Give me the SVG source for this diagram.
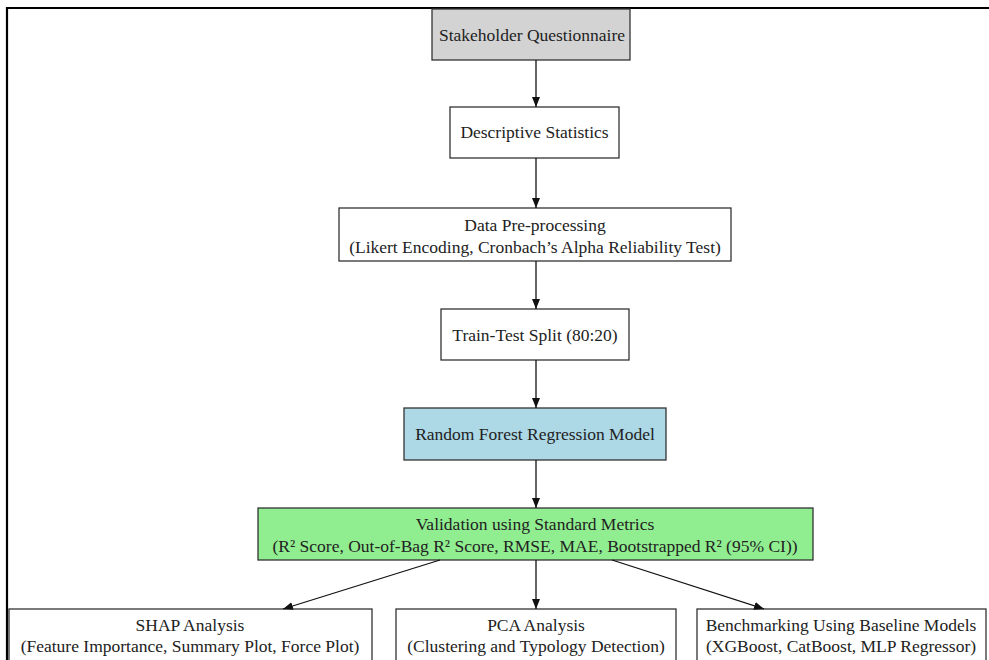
<svg xmlns="http://www.w3.org/2000/svg" width="989" height="660" viewBox="0 0 989 660">
<defs>
<marker id="ah" viewBox="0 0 10 10" refX="10" refY="5" markerWidth="10" markerHeight="10" markerUnits="userSpaceOnUse" orient="auto">
<path d="M0,1 L10,5 L0,9 Z" fill="#111"/>
</marker>
</defs>
<style>
.box{stroke:#333;stroke-width:1.3}
.t{font-family:"Liberation Serif","Times New Roman",serif;font-size:17.5px;fill:#222;text-anchor:middle}
.e{stroke:#111;stroke-width:1.3;fill:none;marker-end:url(#ah)}
</style>
<rect width="989" height="660" fill="#fff"/>
<path d="M7,660 V8 H989" fill="none" stroke="#000" stroke-width="2.2"/>
<g id="n1"><rect class="box" x="432" y="9" width="198" height="51" fill="#d3d3d3"/><text class="t" x="532" y="41">Stakeholder Questionnaire</text></g>
<g id="n2"><rect class="box" x="450" y="107" width="169" height="51" fill="#fff"/><text class="t" x="534.5" y="138">Descriptive Statistics</text></g>
<g id="n3"><rect class="box" x="339" y="208" width="392" height="53" fill="#fff"/><text class="t" x="535" y="231">Data Pre-processing</text><text class="t" x="535" y="253">(Likert Encoding, Cronbach’s Alpha Reliability Test)</text></g>
<g id="n4"><rect class="box" x="441" y="309" width="188" height="51" fill="#fff"/><text class="t" x="535" y="341">Train-Test Split (80:20)</text></g>
<g id="n5"><rect class="box" x="404" y="408" width="262" height="52" fill="#add8e6"/><text class="t" x="535" y="440">Random Forest Regression Model</text></g>
<g id="n6"><rect class="box" x="258" y="508" width="555" height="52" fill="#90ee90"/><text class="t" x="535" y="530">Validation using Standard Metrics</text><text class="t" x="535" y="552">(R² Score, Out-of-Bag R² Score, RMSE, MAE, Bootstrapped R² (95% CI))</text></g>
<g id="n7"><rect class="box" x="9" y="609" width="363" height="60" fill="#fff"/><text class="t" x="190" y="631">SHAP Analysis</text><text class="t" x="190" y="652">(Feature Importance, Summary Plot, Force Plot)</text></g>
<g id="n8"><rect class="box" x="396" y="609" width="280" height="60" fill="#fff"/><text class="t" x="536" y="631">PCA Analysis</text><text class="t" x="536" y="652">(Clustering and Typology Detection)</text></g>
<g id="n9"><rect class="box" x="697" y="609" width="289" height="60" fill="#fff"/><text class="t" x="841" y="631">Benchmarking Using Baseline Models</text><text class="t" x="841" y="652">(XGBoost, CatBoost, MLP Regressor)</text></g>
<g id="edges">
<line class="e" x1="536" y1="60" x2="536" y2="107"/>
<line class="e" x1="536" y1="158" x2="536" y2="208"/>
<line class="e" x1="536" y1="261" x2="536" y2="309"/>
<line class="e" x1="536" y1="360" x2="536" y2="408"/>
<line class="e" x1="536" y1="460" x2="536" y2="508"/>
<line class="e" x1="440" y1="560" x2="283" y2="609"/>
<line class="e" x1="536" y1="560" x2="536" y2="609"/>
<line class="e" x1="612" y1="560" x2="764" y2="609"/>
</g>
</svg>
